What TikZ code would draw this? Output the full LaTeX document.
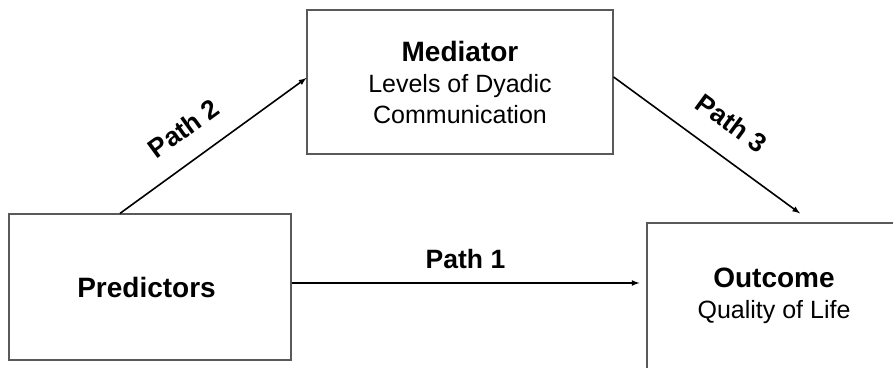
\documentclass[tikz,border=0pt]{standalone}
\usepackage{fontspec}
\setmainfont{Liberation Sans}
\usepackage{tikz}
\usetikzlibrary{positioning, calc}

\begin{document}
\begin{tikzpicture}[x=1pt, y=1pt,
    factor/.style={rectangle,
      draw=black!65,
      line width=1.2pt,
      inner sep=0pt,
      align=center,
      minimum height=146pt,
      font=\fontsize{25}{31}\selectfont},
    link/.style={-latex,
      line width=1.6pt},
    lbl/.style={font=\fontsize{26.5}{30}\selectfont\bfseries,
      inner sep=3pt}]
  \clip (0,0) rectangle (893,367);

  % FACTORS

  \node [factor, minimum width=306pt, minimum height=144pt] 
    at (460,285) (med) {
    {\fontsize{28}{31}\selectfont\bfseries Mediator}\\
    Levels of Dyadic\\
    Communication
  };

  \node [factor, minimum width=282pt] at (150,80) (pred) {
    {\fontsize{28}{31}\selectfont\bfseries Predictors}
  };

  \node [factor, minimum width=254pt] at (774,71) (outc) {
    {\fontsize{28}{31}\selectfont\bfseries Outcome}\\
    Quality of Life
  };

  % PATHS

  \draw[link] ([yshift=4pt]pred.east) 
  -- node[lbl, above=10pt] {Path 1} 
  ([yshift=4pt, xshift=-7pt]pred.east -| outc.west);

  \draw[link] ([xshift=-30pt]pred.north) 
  -- node[lbl, sloped, above=18pt, pos=0.44] {Path 2} 
  ([yshift=4pt]med.west);

  \draw[link] ([yshift=5pt]med.east) 
  -- node[lbl, sloped, above=19pt, pos=0.53] {Path 3} 
  ([xshift=26pt, yshift=9pt]outc.north);

\end{tikzpicture}
\end{document}
